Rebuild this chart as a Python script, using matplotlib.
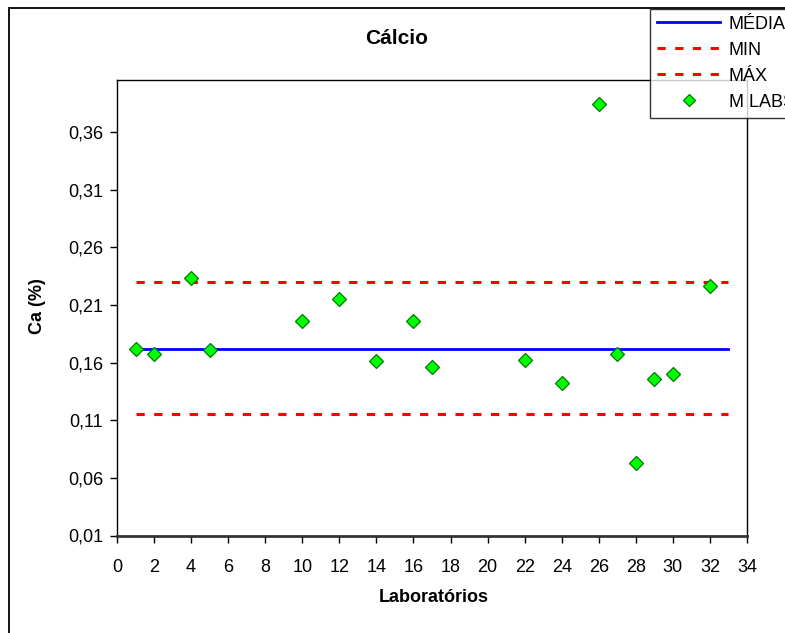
import numpy as np
import matplotlib
matplotlib.use("Agg")
import matplotlib.pyplot as plt
from matplotlib.patches import Rectangle
from matplotlib.ticker import FixedLocator, FuncFormatter

plt.rcParams['font.family'] = ['Liberation Sans', 'DejaVu Sans']

# data
labs = [1, 2, 4, 5, 10, 12, 14, 16, 17, 22, 24, 26, 27, 28, 29, 30, 32]
ca = [0.172, 0.167, 0.233, 0.171, 0.196, 0.215, 0.161, 0.196, 0.156,
      0.162, 0.142, 0.384, 0.167, 0.073, 0.146, 0.150, 0.226]
media_x = [1, 33]
media = 0.172
lim_min = 0.115
lim_max = 0.230
yticks = [0.01, 0.06, 0.11, 0.16, 0.21, 0.26, 0.31, 0.36]
xticks = list(range(0, 35, 2))

W, H = 785, 633
fig = plt.figure(figsize=(W / 100, H / 100), dpi=100)

# outer chart border (runs past right / bottom edges)
fig.patches.append(Rectangle((9 / W, -0.1), 1.2, 1 - 8.5 / H + 0.1,
                             transform=fig.transFigure, fill=False,
                             edgecolor='black', linewidth=1.3))

ax = fig.add_axes([117 / W, 1 - 535.5 / H, (747 - 117) / W, (535.5 - 80) / H])

ax.plot(media_x, [media, media], color='#0000FF', lw=2.0, label='MÉDIA')
ax.plot(media_x, [lim_min, lim_min], color='#FF0000', lw=2.2,
        dashes=(2.7, 3.1), label='MIN')
ax.plot(media_x, [lim_max, lim_max], color='#FF0000', lw=2.2,
        dashes=(2.7, 3.1), label='MÁX')
ax.plot(labs, ca, linestyle='none', marker='D', ms=7.2,
        markerfacecolor='#00FF00', markeredgecolor='#007A00',
        markeredgewidth=0.9, label='M LABS')

ax.set_xlim(0, 34)
ax.set_ylim(0.01, 0.405)
ax.xaxis.set_major_locator(FixedLocator(xticks))
ax.yaxis.set_major_locator(FixedLocator(yticks))
ax.yaxis.set_major_formatter(FuncFormatter(lambda v, p: f"{v:.2f}".replace('.', ',')))
ax.tick_params(direction='out', length=5, width=1, labelsize=13, colors='black')
ax.tick_params(axis='y', pad=5)
ax.tick_params(axis='x', pad=12)
for s in ['left', 'top', 'right']:
    ax.spines[s].set_linewidth(1.0)
    ax.spines[s].set_color('black')
ax.spines['bottom'].set_linewidth(2.0)
ax.spines['bottom'].set_color('#333333')

fig.text(397 / W, 1 - 39 / H, 'Cálcio', ha='center', va='center',
         fontsize=15, fontweight='bold')
fig.text(37 / W, 1 - 306 / H, 'Ca (%)', ha='center', va='center',
         rotation=90, fontsize=13, fontweight='bold')
fig.text(434 / W, 1 - 597 / H, 'Laboratórios', ha='center', va='center',
         fontsize=13, fontweight='bold')

# legend box runs past the right edge, as in the reference
leg = fig.legend(loc='upper left', bbox_to_anchor=(650 / W, 1 - 8.5 / H),
                 bbox_transform=fig.transFigure, borderaxespad=0,
                 fontsize=13, frameon=True, fancybox=False,
                 handlelength=3.5, handletextpad=0.45, labelspacing=0.5,
                 borderpad=0.4, markerscale=0.85)
leg.get_frame().set_edgecolor('black')
leg.get_frame().set_linewidth(1.0)

fig.savefig('out.png', dpi=100)
